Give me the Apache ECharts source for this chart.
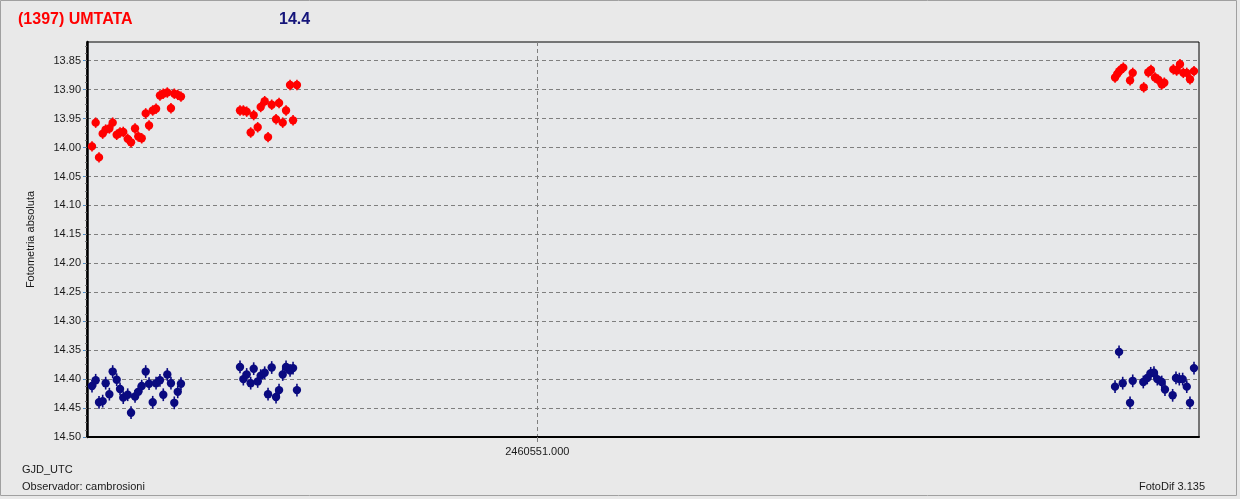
<!DOCTYPE html>
<html>
<head>
<meta charset="utf-8">
<title>(1397) UMTATA</title>
<script src="https://cdn.jsdelivr.net/npm/echarts@6/dist/echarts.min.js"></script>
<style>
  html, body { margin: 0; padding: 0; background: #e9e9e9; }
  #chart { width: 1240px; height: 499px; }
</style>
</head>
<body>
<div id="chart"></div>
<script>
// asteroid (red) - GJD_UTC and magnitude
const asteroidTime = [
  2460550.5995, 2460550.6028, 2460550.6058, 2460550.6091, 2460550.6118, 2460550.6151,
  2460550.6181, 2460550.6217, 2460550.6247, 2460550.6276, 2460550.6316, 2460550.6346,
  2460550.6382, 2460550.6411, 2460550.6442, 2460550.6478, 2460550.6508, 2460550.6541,
  2460550.6571, 2460550.6606, 2460550.6636, 2460550.6672, 2460550.6705, 2460550.6735,
  2460550.6766, 2460550.6795,
  2460550.7326, 2460550.7356, 2460550.7386, 2460550.7422, 2460550.7449, 2460550.7485,
  2460550.7512, 2460550.7548, 2460550.7578, 2460550.7611, 2460550.7650, 2460550.7677,
  2460550.7710, 2460550.7740, 2460550.7776, 2460550.7803, 2460550.7838,
  2460551.5195, 2460551.5215, 2460551.5233, 2460551.5251, 2460551.5269, 2460551.5330,
  2460551.5354, 2460551.5453, 2460551.5494, 2460551.5518, 2460551.5554, 2460551.5584,
  2460551.5615, 2460551.5638, 2460551.5719, 2460551.5749, 2460551.5779, 2460551.5809,
  2460551.5840, 2460551.5869, 2460551.5905
];
const asteroidMag = [
  13.998, 13.957, 14.017, 13.976, 13.969, 13.967, 13.957, 13.978, 13.974, 13.973,
  13.985, 13.991, 13.967, 13.981, 13.984, 13.941, 13.962, 13.936, 13.933, 13.910,
  13.907, 13.905, 13.932, 13.907, 13.909, 13.912,
  13.936, 13.936, 13.938, 13.974, 13.944, 13.965, 13.930, 13.920, 13.982, 13.926,
  13.951, 13.923, 13.957, 13.936, 13.892, 13.953, 13.892,
  13.879, 13.873, 13.868, 13.865, 13.862, 13.884, 13.871, 13.896, 13.870, 13.866,
  13.879, 13.883, 13.891, 13.888, 13.865, 13.867, 13.856, 13.871, 13.871, 13.882,
  13.868
];

// comparison (navy)
const compTime = [
  2460550.5995, 2460550.6028, 2460550.6058, 2460550.6091, 2460550.6118, 2460550.6151,
  2460550.6181, 2460550.6217, 2460550.6247, 2460550.6276, 2460550.6316, 2460550.6346,
  2460550.6382, 2460550.6411, 2460550.6442, 2460550.6478, 2460550.6508, 2460550.6541,
  2460550.6571, 2460550.6606, 2460550.6636, 2460550.6672, 2460550.6705, 2460550.6735,
  2460550.6766, 2460550.6795,
  2460550.7326, 2460550.7356, 2460550.7386, 2460550.7422, 2460550.7449, 2460550.7485,
  2460550.7512, 2460550.7548, 2460550.7578, 2460550.7611, 2460550.7650, 2460550.7677,
  2460550.7710, 2460550.7740, 2460550.7776, 2460550.7803, 2460550.7838,
  2460551.5195, 2460551.5231, 2460551.5264, 2460551.5330, 2460551.5354, 2460551.5449,
  2460551.5485, 2460551.5516, 2460551.5545, 2460551.5575, 2460551.5615, 2460551.5644,
  2460551.5713, 2460551.5743, 2460551.5773, 2460551.5803, 2460551.5840, 2460551.5869,
  2460551.5905
];
const compMag = [
  14.412, 14.402, 14.440, 14.438, 14.407, 14.426, 14.387, 14.401, 14.417, 14.432,
  14.427, 14.458, 14.430, 14.422, 14.412, 14.387, 14.408, 14.440, 14.407, 14.402,
  14.427, 14.392, 14.407, 14.441, 14.422, 14.408,
  14.379, 14.400, 14.392, 14.407, 14.382, 14.404, 14.394, 14.389, 14.426, 14.380,
  14.431, 14.419, 14.392, 14.379, 14.385, 14.381, 14.419,
  14.413, 14.353, 14.407, 14.441, 14.403, 14.405, 14.398, 14.390, 14.389, 14.400,
  14.405, 14.418, 14.428, 14.398, 14.400, 14.400, 14.413, 14.441, 14.381
];
const asteroidErr = 0.009;
const compErr = 0.011;

const xTicks = [2460551.0];
const yTicks = [13.85, 13.90, 13.95, 14.00, 14.05, 14.10, 14.15, 14.20, 14.25,
                14.30, 14.35, 14.40, 14.45, 14.50];
// three minor ticks between majors
const yMinorTicks = [];
for (let i = 2; i <= 56; i++) yMinorTicks.push(+(13.80 + i * 0.0125).toFixed(4));

const xRange = [2460550.595, 2460551.595];
const yRange = [13.8177, 14.50];

const labelFont = 'Liberation Sans, Arial, sans-serif';
const gridDash = { color: '#7f7f7f', width: 1, type: [4, 3] };

function errorBarItem(color, err) {
  return function (params, api) {
    const x = api.value(0);
    const y = api.value(1);
    const c = api.coord([x, y]);
    const top = api.coord([x, y - err]);
    const bot = api.coord([x, y + err]);
    return {
      type: 'group',
      children: [
        { type: 'line', shape: { x1: c[0], y1: top[1], x2: c[0], y2: bot[1] },
          style: { stroke: color, lineWidth: 1.6 } },
        { type: 'circle', shape: { cx: c[0], cy: c[1], r: 4.2 },
          style: { fill: color } }
      ]
    };
  };
}

const chart = echarts.init(document.getElementById('chart'));

chart.setOption({
  backgroundColor: '#e9e9e9',
  animation: false,
  grid: {
    left: 87, right: 41, top: 42, bottom: 62,
    show: true, backgroundColor: '#e7e8ea', borderColor: '#000', borderWidth: 1
  },
  xAxis: {
    type: 'value',
    min: xRange[0], max: xRange[1],
    axisLine: { lineStyle: { color: '#000', width: 2 } },
    axisTick: { customValues: xTicks, length: 5, lineStyle: { color: '#7f7f7f' } },
    axisLabel: {
      customValues: xTicks, margin: 9, color: '#1a1a1a', fontSize: 11, fontFamily: labelFont,
      formatter: v => v.toFixed(3)
    },
    splitLine: { show: true, lineStyle: gridDash }
  },
  yAxis: [{
    type: 'value',
    inverse: true,
    min: yRange[0], max: yRange[1],
    name: 'Fotometria absoluta',
    nameLocation: 'middle',
    nameRotate: 90,
    nameGap: 51,
    nameTextStyle: { color: '#1a1a1a', fontSize: 11, fontFamily: labelFont },
    axisLine: { show: true, lineStyle: { color: '#000', width: 2.5 } },
    axisTick: { customValues: yTicks, length: 4, lineStyle: { color: '#4a8fd0' } },
    axisLabel: {
      customValues: yTicks, margin: 6, color: '#1a1a1a', fontSize: 11, fontFamily: labelFont,
      formatter: v => v.toFixed(2)
    },
    splitLine: { show: true, lineStyle: gridDash }
  }, {
    type: 'value',
    inverse: true,
    position: 'left',
    min: yRange[0], max: yRange[1],
    axisLine: { show: false },
    axisTick: { customValues: yMinorTicks, length: 2, lineStyle: { color: '#777' } },
    axisLabel: { show: false },
    splitLine: { show: false }
  }],
  series: [{
    name: 'asteroid',
    type: 'custom',
    renderItem: errorBarItem('#ff0000', asteroidErr),
    data: asteroidTime.map((t, i) => [t, asteroidMag[i]]),
    encode: { x: 0, y: 1 },
    z: 3
  }, {
    name: 'comparison',
    type: 'custom',
    renderItem: errorBarItem('#0a0a80', compErr),
    data: compTime.map((t, i) => [t, compMag[i]]),
    encode: { x: 0, y: 1 },
    z: 3
  }],
  graphic: [
    { type: 'rect', shape: { x: 0.5, y: 0.5, width: 1236, height: 495 },
      style: { fill: null, stroke: '#a0a0a0', lineWidth: 1 }, z: -1 },
    { type: 'text', left: 18, top: 12,
      style: { text: '(1397) UMTATA', fill: '#ff0000', font: 'bold 16px ' + labelFont } },
    { type: 'text', left: 279, top: 12,
      style: { text: '14.4', fill: '#15157a', font: 'bold 16px ' + labelFont } },
    { type: 'text', left: 22, top: 464,
      style: { text: 'GJD_UTC', fill: '#1a1a1a', font: '11px ' + labelFont } },
    { type: 'text', left: 22, top: 481,
      style: { text: 'Observador: cambrosioni', fill: '#1a1a1a', font: '11px ' + labelFont } },
    { type: 'text', right: 35, top: 481,
      style: { text: 'FotoDif 3.135', fill: '#1a1a1a', font: '11px ' + labelFont } }
  ]
});
</script>
</body>
</html>
